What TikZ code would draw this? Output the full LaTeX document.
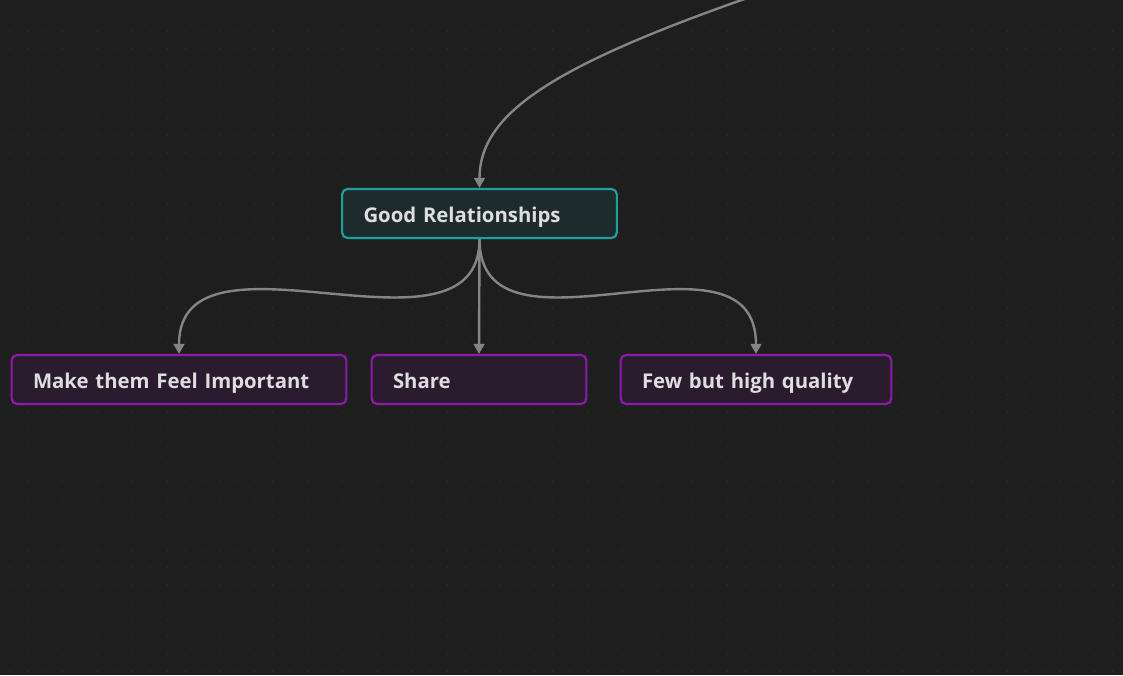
\documentclass[tikz,border=0pt]{standalone}
\usepackage{fontspec}
\setmainfont{Open Sans}
\usetikzlibrary{arrows.meta}
\definecolor{canvasbg}{HTML}{1E1E1E}
\definecolor{griddot}{HTML}{2E2E2E}
\definecolor{edgegray}{HTML}{858585}
\definecolor{tealline}{HTML}{1AA39C}
\definecolor{tealfill}{HTML}{1E2B2C}
\definecolor{purpline}{HTML}{8E1AAA}
\definecolor{purpfill}{HTML}{2A1B2F}
\definecolor{cardtext}{HTML}{DEDEDE}
\tikzset{
  card/.style={draw, line width=1.6pt, rounded corners=4pt, inner xsep=16pt,
    minimum height=36.75pt, align=left, text=cardtext,
    text height=15pt, text depth=2pt,
    font=\fontsize{15.25}{19}\selectfont\bfseries},
  topic/.style={card, draw=tealline, fill=tealfill},
  subtopic/.style={card, draw=purpline, fill=purpfill},
  link/.style={edgegray, line width=1.8pt,
    -{Triangle[width=8pt,length=7.5pt]}}
}
\begin{document}
\begin{tikzpicture}[x=0.75pt,y=-0.75pt]
\useasboundingbox (0,0) rectangle (1123,675);
\fill[canvasbg] (0,0) rectangle (1123,675);
\clip (0,0) rectangle (1123,675);
% dot grid
\foreach \i in {0,...,63}
  \foreach \j in {0,...,38}
    \fill[griddot] (10+17.5*\i,14+17.3*\j) circle (0.7);
% cards
\node[topic, text width=174pt] (good) at (479.5,213.5) {Good Relationships};
\node[subtopic, text width=219pt] (feel) at (179,379.5) {Make them Feel Important};
\node[subtopic, text width=129pt] (share) at (479,379.5) {Share};
\node[subtopic, text width=171pt] (few) at (756,379.5) {Few but high quality};
% links
\coordinate (up) at (800,-20);
\draw[link] (up) .. controls +(-240,80) and +(0,-78) .. (good.north);
\draw[link] (good.south) -- (share.north);
\draw[link] (good.south) .. controls +(0,135) and +(0,-140) .. (feel.north);
\draw[link] (good.south) .. controls +(0,135) and +(0,-140) .. (few.north);
\end{tikzpicture}
\end{document}
